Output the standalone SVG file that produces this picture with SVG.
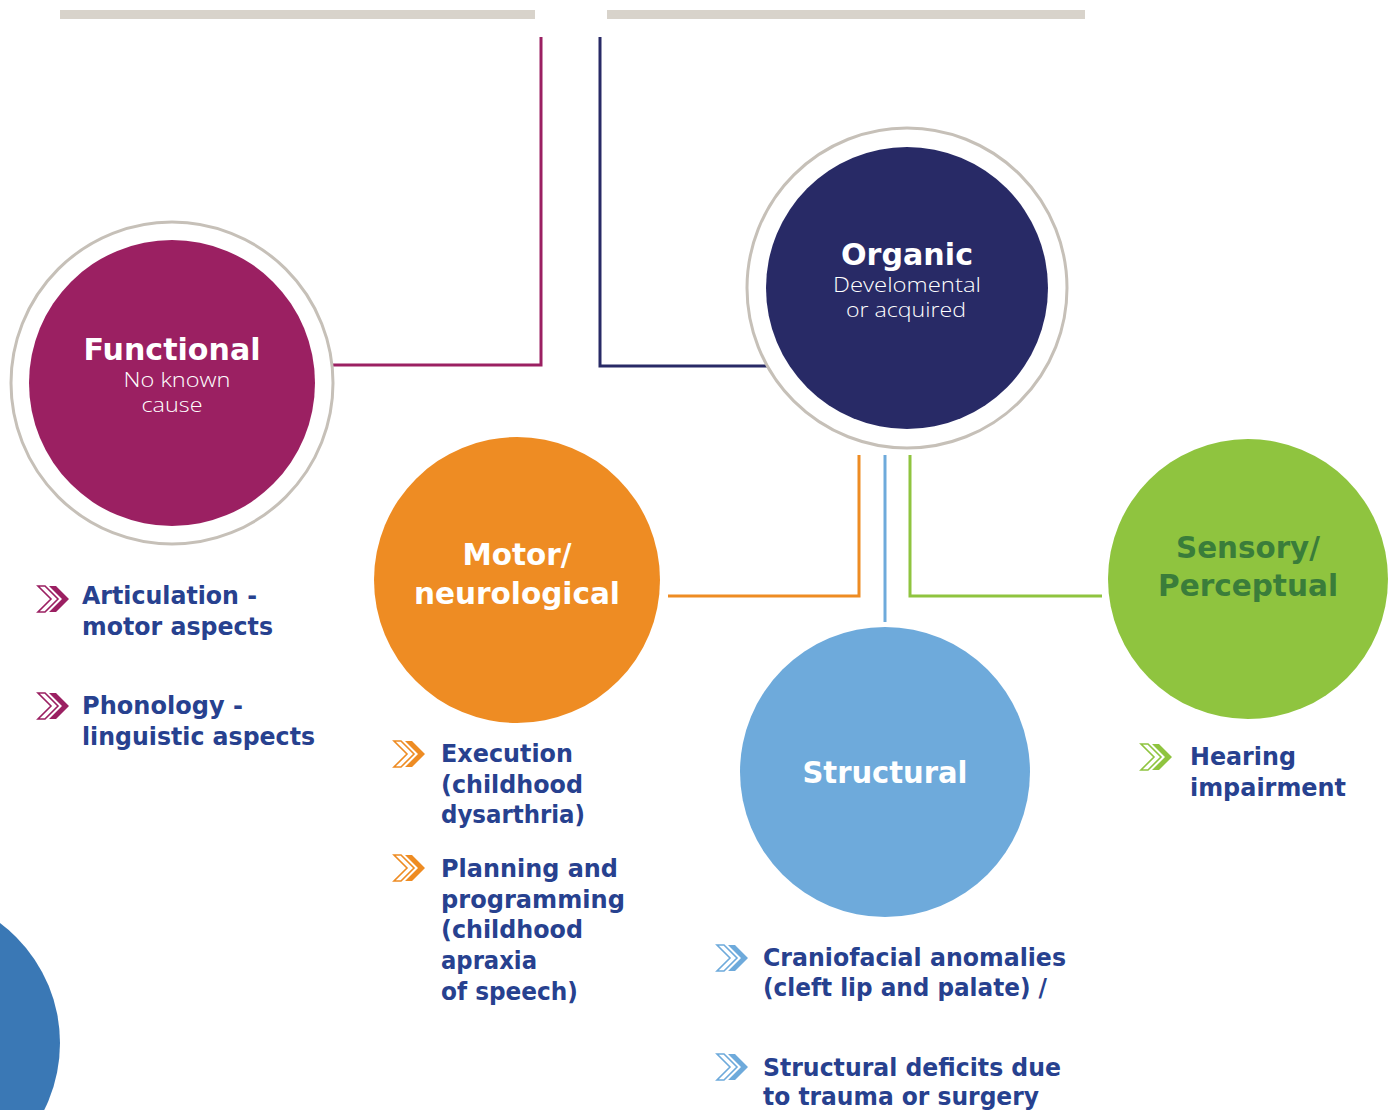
<svg xmlns="http://www.w3.org/2000/svg" width="1398" height="1110" viewBox="0 0 1398 1110">
  <style>
    .bar { fill: #d8d3cb; }
    .ring { fill: #ffffff; stroke: #c6c0b8; stroke-width: 3; }
    .title { font-family: "DejaVu Sans", "Liberation Sans", sans-serif; font-weight: bold; font-size: 31px; fill: #ffffff; text-anchor: middle; }
    .sub { font-family: "Open Sans", "DejaVu Sans", sans-serif; font-weight: 300; font-size: 20px; fill: #ffffff; text-anchor: middle; }
    .item { font-family: "DejaVu Sans", "Liberation Sans", sans-serif; font-weight: bold; font-size: 25px; fill: #27418f; }
    .conn { fill: none; stroke-width: 3; }
    .chev-o { fill: #ffffff; stroke-width: 1.6; }
  </style>
  <defs>
    <polygon id="chev" points="0,0 7,0 20,13 7,26 0,26 13,13"/>
    <g id="bullet">
      <use href="#chev" class="chev-o"/>
      <use href="#chev" x="11" stroke="none"/>
    </g>
  </defs>

  <!-- header bars -->
  <rect class="bar" x="60" y="10" width="475" height="9"/>
  <rect class="bar" x="607" y="10" width="478" height="9"/>

  <!-- connectors -->
  <g id="connectors">
    <polyline class="conn" stroke="#9b2062" points="333,365 541,365 541,37"/>
    <polyline class="conn" stroke="#282a66" points="600,37 600,366 768,366"/>
    <polyline class="conn" stroke="#ee8c23" points="668,596 859,596 859,455"/>
    <line class="conn" stroke="#6eaadb" x1="885" y1="455" x2="885" y2="622"/>
    <polyline class="conn" stroke="#8fc43f" points="910,455 910,596 1102,596"/>
  </g>

  <!-- decorative corner disc -->
  <circle cx="-90" cy="1043" r="150" fill="#3a78b5"/>

  <g id="functional">
    <circle class="ring" cx="172" cy="383" r="161"/>
    <circle cx="172" cy="383" r="143" fill="#9b2062"/>
    <text class="title" x="172" y="360" textLength="177" lengthAdjust="spacingAndGlyphs">Functional</text>
    <text class="sub"><tspan x="177" y="387" textLength="107" lengthAdjust="spacingAndGlyphs">No known</tspan><tspan x="172" y="412" textLength="61" lengthAdjust="spacingAndGlyphs">cause</tspan></text>
  </g>

  <g id="organic">
    <circle class="ring" cx="907" cy="288" r="160"/>
    <circle cx="907" cy="288" r="141" fill="#282a66"/>
    <text class="title" x="907" y="265" textLength="132" lengthAdjust="spacingAndGlyphs">Organic</text>
    <text class="sub"><tspan x="907" y="292" textLength="148" lengthAdjust="spacingAndGlyphs">Develomental</tspan><tspan x="906" y="317" textLength="120" lengthAdjust="spacingAndGlyphs">or acquired</tspan></text>
  </g>

  <g id="motor">
    <circle cx="517" cy="580" r="143" fill="#ee8c23"/>
    <text class="title" x="517" y="565" textLength="109" lengthAdjust="spacingAndGlyphs">Motor/</text>
    <text class="title" x="517" y="604" textLength="206" lengthAdjust="spacingAndGlyphs">neurological</text>
  </g>

  <g id="structural">
    <circle cx="885" cy="772" r="145" fill="#6eaadb"/>
    <text class="title" x="885" y="783" textLength="165" lengthAdjust="spacingAndGlyphs">Structural</text>
  </g>

  <g id="sensory">
    <circle cx="1248" cy="579" r="140" fill="#8fc43f"/>
    <text class="title" x="1248" y="558" style="fill:#3a7d3a" textLength="144" lengthAdjust="spacingAndGlyphs">Sensory/</text>
    <text class="title" x="1248" y="596" style="fill:#3a7d3a" textLength="180" lengthAdjust="spacingAndGlyphs">Perceptual</text>
  </g>

  <!-- functional items -->
  <g id="functional-items">
    <use href="#bullet" x="38" y="586" fill="#9b2062" stroke="#9b2062"/>
    <text class="item" x="82" y="604" textLength="175" lengthAdjust="spacingAndGlyphs">Articulation -</text>
    <text class="item" x="82" y="635" textLength="191" lengthAdjust="spacingAndGlyphs">motor aspects</text>
    <use href="#bullet" x="38" y="693" fill="#9b2062" stroke="#9b2062"/>
    <text class="item" x="82" y="714" textLength="161" lengthAdjust="spacingAndGlyphs">Phonology -</text>
    <text class="item" x="82" y="745" textLength="233" lengthAdjust="spacingAndGlyphs">linguistic aspects</text>
  </g>

  <!-- motor items -->
  <g id="motor-items">
    <use href="#bullet" x="394" y="741" fill="#ee8c23" stroke="#ee8c23"/>
    <text class="item" x="441" y="762" textLength="132" lengthAdjust="spacingAndGlyphs">Execution</text>
    <text class="item" x="441" y="793" textLength="142" lengthAdjust="spacingAndGlyphs">(childhood</text>
    <text class="item" x="441" y="823" textLength="144" lengthAdjust="spacingAndGlyphs">dysarthria)</text>
    <use href="#bullet" x="394" y="855" fill="#ee8c23" stroke="#ee8c23"/>
    <text class="item" x="441" y="877" textLength="177" lengthAdjust="spacingAndGlyphs">Planning and</text>
    <text class="item" x="441" y="908" textLength="184" lengthAdjust="spacingAndGlyphs">programming</text>
    <text class="item" x="441" y="938" textLength="142" lengthAdjust="spacingAndGlyphs">(childhood</text>
    <text class="item" x="441" y="969" textLength="96" lengthAdjust="spacingAndGlyphs">apraxia</text>
    <text class="item" x="441" y="1000" textLength="137" lengthAdjust="spacingAndGlyphs">of speech)</text>
  </g>

  <!-- structural items -->
  <g id="structural-items">
    <use href="#bullet" x="717" y="945" fill="#6eaadb" stroke="#6eaadb"/>
    <text class="item" x="763" y="966" textLength="303" lengthAdjust="spacingAndGlyphs">Craniofacial anomalies</text>
    <text class="item" x="763" y="996" textLength="284" lengthAdjust="spacingAndGlyphs">(cleft lip and palate) /</text>
    <use href="#bullet" x="717" y="1054" fill="#6eaadb" stroke="#6eaadb"/>
    <text class="item" x="763" y="1076" textLength="298" lengthAdjust="spacingAndGlyphs">Structural deficits due</text>
    <text class="item" x="763" y="1105" textLength="276" lengthAdjust="spacingAndGlyphs">to trauma or surgery</text>
  </g>

  <!-- sensory items -->
  <g id="sensory-items">
    <use href="#bullet" x="1141" y="744" fill="#8fc43f" stroke="#8fc43f"/>
    <text class="item" x="1190" y="765" textLength="106" lengthAdjust="spacingAndGlyphs">Hearing</text>
    <text class="item" x="1190" y="796" textLength="156" lengthAdjust="spacingAndGlyphs">impairment</text>
  </g>
</svg>
